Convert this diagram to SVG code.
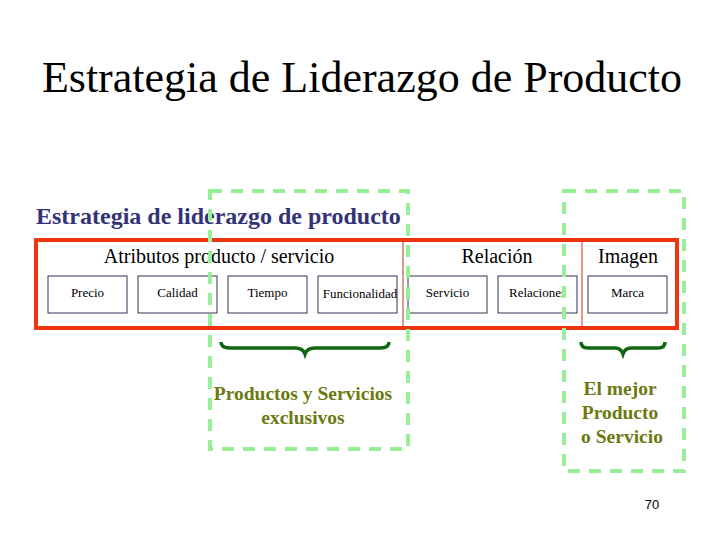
<svg xmlns="http://www.w3.org/2000/svg" width="720" height="540" viewBox="0 0 720 540">
<style>
.t{font-family:'Liberation Serif',serif;fill:#000}
.b{fill:#fff;stroke:#333355;stroke-width:1}
.bl{font-family:'Liberation Serif',serif;font-size:13px;text-anchor:middle}
.g{fill:none;stroke:#99ee99;stroke-width:4;stroke-dasharray:12,9}
.br{fill:none;stroke:#116611;stroke-width:3.5}
.gt{font-family:'Liberation Serif',serif;font-weight:bold;font-size:19.5px;fill:#6b7a10;text-anchor:middle}
</style>
<rect width="720" height="540" fill="#fff"/>
<text class="t" x="362" y="92" font-size="44" text-anchor="middle">Estrategia de Liderazgo de Producto</text>
<text x="36" y="224" font-family="'Liberation Serif',serif" font-weight="bold" font-size="24" fill="#333377">Estrategia de liderazgo de producto</text>
<g id="frame">
<rect x="36" y="240" width="641" height="88" fill="none" stroke="#ee3311" stroke-width="4"/>
<line x1="403" y1="240" x2="403" y2="328" stroke="#cc3311" stroke-width="1"/>
<line x1="582" y1="240" x2="582" y2="328" stroke="#cc3311" stroke-width="1"/>
<text class="t" x="219" y="263" font-size="20" text-anchor="middle">Atributos producto / servicio</text>
<text class="t" x="497" y="263" font-size="20" text-anchor="middle">Relación</text>
<text class="t" x="628" y="263" font-size="20" text-anchor="middle">Imagen</text>
</g>
<g id="precio"><rect class="b" x="48" y="276" width="79" height="37"/><text class="bl" x="87.5" y="297">Precio</text></g>
<g id="calidad"><rect class="b" x="138" y="276" width="79" height="37"/><text class="bl" x="177.5" y="297">Calidad</text></g>
<g id="tiempo"><rect class="b" x="228" y="276" width="79" height="37"/><text class="bl" x="267.5" y="297">Tiempo</text></g>
<g id="funcionalidad"><rect class="b" x="318" y="276" width="79" height="37"/><text class="bl" x="360" y="298">Funcionalidad</text></g>
<g id="servicio"><rect class="b" x="408" y="276" width="79" height="37"/><text class="bl" x="447.5" y="297">Servicio</text></g>
<g id="relaciones"><rect class="b" x="498" y="276" width="79" height="37"/><text class="bl" x="537.5" y="297">Relaciones</text></g>
<g id="marca"><rect class="b" x="588" y="276" width="79" height="37"/><text class="bl" x="627.5" y="297">Marca</text></g>
<g id="connectors">
<rect class="g" x="210" y="191" width="198" height="258"/>
<rect class="g" x="564" y="191" width="120" height="280"/>
<path class="br" d="M221,342 Q221,348 230,348 L295,348 Q303,348 305,354 Q307,348 315,348 L380,348 Q389,348 389,342"/>
<path class="br" d="M581,342 Q581,348 588,348 L615,348 Q621,348 623,354 Q625,348 631,348 L658,348 Q665,348 665,342"/>
</g>
<g id="labels">
<text class="gt" x="303" y="400">Productos y Servicios</text>
<text class="gt" x="303" y="424">exclusivos</text>
<text class="gt" x="620" y="395">El mejor</text>
<text class="gt" x="620" y="419">Producto</text>
<text class="gt" x="622" y="443">o Servicio</text>
</g>
<text x="652" y="509" font-family="'Liberation Sans',sans-serif" font-size="13" text-anchor="middle">70</text>
</svg>
